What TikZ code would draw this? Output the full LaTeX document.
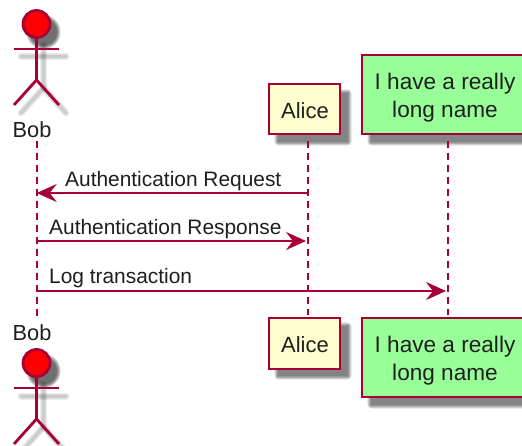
\documentclass[tikz,border=0pt]{standalone}
\usepackage{fontspec}
\setmainfont{Liberation Sans}
\usetikzlibrary{arrows.meta}
\definecolor{umlred}{HTML}{A80036}
\definecolor{umlyellow}{HTML}{FEFECE}
\definecolor{umlgreen}{HTML}{98FF98}
\newcommand{\softbox}[4]{%
  \foreach \g in {4,3,2,1,0}{%
    \fill[black,opacity=0.12,rounded corners=\g pt]
      (#1-\g*0.9,#2-\g*0.9) rectangle (#3+\g*0.9,#4+\g*0.9);}}
\newcommand{\softactor}[1]{%
  \begin{scope}[yshift=-#1 pt,xshift=7pt,line cap=round]
    \foreach \w in {7,5,3}{%
      \draw[black,opacity=0.07,line width=\w pt] (14,57) -- (59,57);
      \draw[black,opacity=0.07,line width=\w pt] (36.5,45) -- (36.5,88) -- (14,113);
      \draw[black,opacity=0.07,line width=\w pt] (36.5,88) -- (59,113);
    }
    \foreach \g in {4,3,2,1,0}{\fill[black,opacity=0.15] (36.5,32) circle (13.5+\g*0.9);}
  \end{scope}}
\tikzset{
  x=1pt,y=-1pt,
  txt/.style={font=\fontsize{20.9pt}{28pt}\selectfont,text=black!88,inner sep=0pt,align=center},
  bobtxt/.style={txt,font=\fontsize{21.8pt}{28pt}\selectfont},
  alicetxt/.style={txt,font=\fontsize{22pt}{28pt}\selectfont},
  longtxt/.style={txt,font=\fontsize{22.6pt}{28pt}\selectfont},
  part/.style={draw=umlred,line width=2.2pt,inner sep=0pt},
  alicebox/.style={part,fill=umlyellow,minimum width=71pt,minimum height=50.5pt},
  longbox/.style={part,fill=umlgreen,minimum width=162pt,minimum height=79pt},
  lifeline/.style={draw=umlred,line width=1.6pt,dash pattern=on 7pt off 5pt},
  message/.style={draw=umlred,line width=1.8pt,-{Stealth[length=20pt,width=18pt,inset=7pt,fill=umlred]}},
  limb/.style={draw=umlred,line width=2.8pt},
  head/.style={draw=umlred,fill=red,line width=2.8pt,circle,minimum size=27pt,inner sep=0pt},
  msglabel/.style={txt,anchor=base west}
}
\begin{document}
\begin{tikzpicture}
\useasboundingbox (0,0) rectangle (522,446);
\clip (0,0) rectangle (522,446);
\fill[white] (0,0) rectangle (522,446);
% shadows
\softactor{0}
\softactor{339}
\softbox{278}{93}{348}{142}
\softbox{371}{64}{530}{142}
\softbox{278}{326}{348}{376}
\softbox{371}{326}{530}{405}
% header and footer participants
\node[bobtxt] (bobtop) at (32,129.5) {Bob};
\node[bobtxt] (bobbot) at (32,332.5) {Bob};
\node[alicebox] (alicetop) at (304.5,109) {};
\node[alicebox] (alicebot) at (304.5,343.5) {};
\node[alicetxt] (alicetoptext) at (305,111) {Alice};
\node[alicetxt] (alicebottext) at (305,345) {Alice};
\node[longbox] (longtop) at (443,94.5) {};
\node[longbox] (longbot) at (443,357.5) {};
\node[longtxt] (longtoptext) at (445,98) {I have a really\\long name};
\node[longtxt] (longbottext) at (445,361) {I have a really\\long name};
% lifelines
\coordinate (bobline1) at (36.7,141);
\coordinate (bobline2) at (36.7,320);
\coordinate (aliceline1) at (307.7,141);
\coordinate (aliceline2) at (307.7,315);
\coordinate (longline1) at (447.7,141);
\coordinate (longline2) at (447.7,315);
\draw[lifeline] (bobline1) -- (bobline2);
\draw[lifeline] (aliceline1) -- (aliceline2);
\draw[lifeline] (longline1) -- (longline2);
% actors
\node[head] (headtop) at (36.5,24) {};
\draw[limb] (14,49) -- (59,49);
\draw[limb] (headtop.south) -- (36.5,80) -- (14,105);
\draw[limb] (36.5,80) -- (59,105);
\node[head] (headbot) at (36.5,363) {};
\draw[limb] (14,388) -- (59,388);
\draw[limb] (headbot.south) -- (36.5,419) -- (14,444);
\draw[limb] (36.5,419) -- (59,444);
% messages
\coordinate (m1a) at (307.7,193);
\coordinate (m1b) at (36.7,193);
\coordinate (m2a) at (36.7,241);
\coordinate (m2b) at (306,241);
\coordinate (m3a) at (36.7,291);
\coordinate (m3b) at (446,291);
\draw[message] (m1a) -- (m1b);
\draw[message] (m2a) -- (m2b);
\draw[message] (m3a) -- (m3b);
\node[msglabel] (l1) at (65,187) {Authentication Request};
\node[msglabel] (l2) at (49,235) {Authentication Response};
\node[msglabel] (l3) at (49,284) {Log transaction};
\end{tikzpicture}
\end{document}
